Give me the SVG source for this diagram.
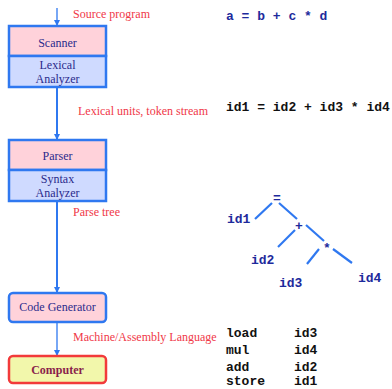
<svg xmlns="http://www.w3.org/2000/svg" width="392" height="389" viewBox="0 0 392 389">
<defs>
<marker id="ah" markerWidth="6" markerHeight="6" refX="5" refY="3" orient="auto" markerUnits="userSpaceOnUse">
<path d="M0,0 L6,3 L0,6 Z" fill="#2f78f0"/>
</marker>
<style>
.box{stroke:#2f78f0;stroke-width:2.5}
.pink{fill:#ffd2da}
.blue{fill:#cfdaff}
.nt{font-family:"Liberation Serif",serif;font-size:12px;fill:#2b2b8c;text-anchor:middle}
.lbl{font-family:"Liberation Serif",serif;font-size:12px;fill:#f03848}
.code{font-family:"Liberation Mono",monospace;font-size:13px;font-weight:bold}
.blu{fill:#1d2a9c}
.blk{fill:#111}
.edge{stroke:#2f78f0;stroke-width:2;fill:none}
.tl{stroke:#2f78f0;stroke-width:2.2;fill:none}
</style>
</defs>
<rect width="392" height="389" fill="#fff"/>
<g id="connectors">
<line class="edge" x1="57" y1="8" x2="57" y2="25" marker-end="url(#ah)" style="stroke-width:1.3"/>
<line class="edge" x1="57" y1="87" x2="57" y2="139" marker-end="url(#ah)"/>
<line class="edge" x1="57" y1="201" x2="57" y2="292" marker-end="url(#ah)"/>
<line class="edge" x1="57" y1="322" x2="57" y2="355" marker-end="url(#ah)" style="stroke-width:1.3"/>
</g>
<g id="scanner">
<rect class="box pink" x="9" y="26" width="97" height="30"/>
<rect class="box blue" x="9" y="56" width="97" height="31"/>
<text class="nt" x="57.5" y="47">Scanner</text>
<text class="nt" x="57.5" y="69">Lexical</text>
<text class="nt" x="57.5" y="83">Analyzer</text>
</g>
<g id="parser">
<rect class="box pink" x="9" y="140" width="97" height="30"/>
<rect class="box blue" x="9" y="170" width="97" height="31"/>
<text class="nt" x="57.5" y="160">Parser</text>
<text class="nt" x="57.5" y="183">Syntax</text>
<text class="nt" x="57.5" y="197">Analyzer</text>
</g>
<g id="codegen">
<rect class="box pink" x="9" y="293" width="97" height="29" rx="4"/>
<text class="nt" x="57.5" y="311">Code Generator</text>
</g>
<g id="computer">
<rect x="9" y="356" width="97" height="27" rx="4" fill="#f2f7ab" stroke="#f23a3a" stroke-width="2.5"/>
<text x="57.5" y="374" font-family="Liberation Serif,serif" font-size="12" font-weight="bold" fill="#8a1f4c" text-anchor="middle">Computer</text>
</g>
<g id="labels">
<text class="lbl" x="73" y="18">Source program</text>
<text class="lbl" x="78" y="115">Lexical units, token stream</text>
<text class="lbl" x="73" y="216">Parse tree</text>
<text class="lbl" x="73" y="341">Machine/Assembly Language</text>
</g>
<g id="source">
<text class="code blu" x="226" y="20">a = b + c * d</text>
</g>
<g id="tokens">
<text class="code blk" x="226" y="111">id1 = id2 + id3 * id4</text>
</g>
<g id="tree">
<line class="tl" x1="255" y1="219" x2="272" y2="203"/>
<line class="tl" x1="279" y1="203" x2="297" y2="219"/>
<line class="tl" x1="278" y1="247" x2="295" y2="230"/>
<line class="tl" x1="306" y1="225" x2="324" y2="241"/>
<line class="tl" x1="307" y1="264" x2="319" y2="249"/>
<line class="tl" x1="333" y1="249" x2="352" y2="263"/>
<text class="code blu" x="277" y="202" text-anchor="middle">=</text>
<text class="code blu" x="299" y="230" text-anchor="middle">+</text>
<text class="code blu" x="327" y="252" text-anchor="middle">*</text>
<text class="code blu" x="227" y="223">id1</text>
<text class="code blu" x="251" y="264">id2</text>
<text class="code blu" x="279" y="287">id3</text>
<text class="code blu" x="358" y="282">id4</text>
</g>
<g id="asm">
<text class="code blk" x="226" y="337">load</text>
<text class="code blk" x="294" y="337">id3</text>
<text class="code blk" x="226" y="354">mul</text>
<text class="code blk" x="294" y="354">id4</text>
<text class="code blk" x="226" y="371">add</text>
<text class="code blk" x="294" y="371">id2</text>
<text class="code blk" x="226" y="385">store</text>
<text class="code blk" x="294" y="385">id1</text>
</g>
</svg>
